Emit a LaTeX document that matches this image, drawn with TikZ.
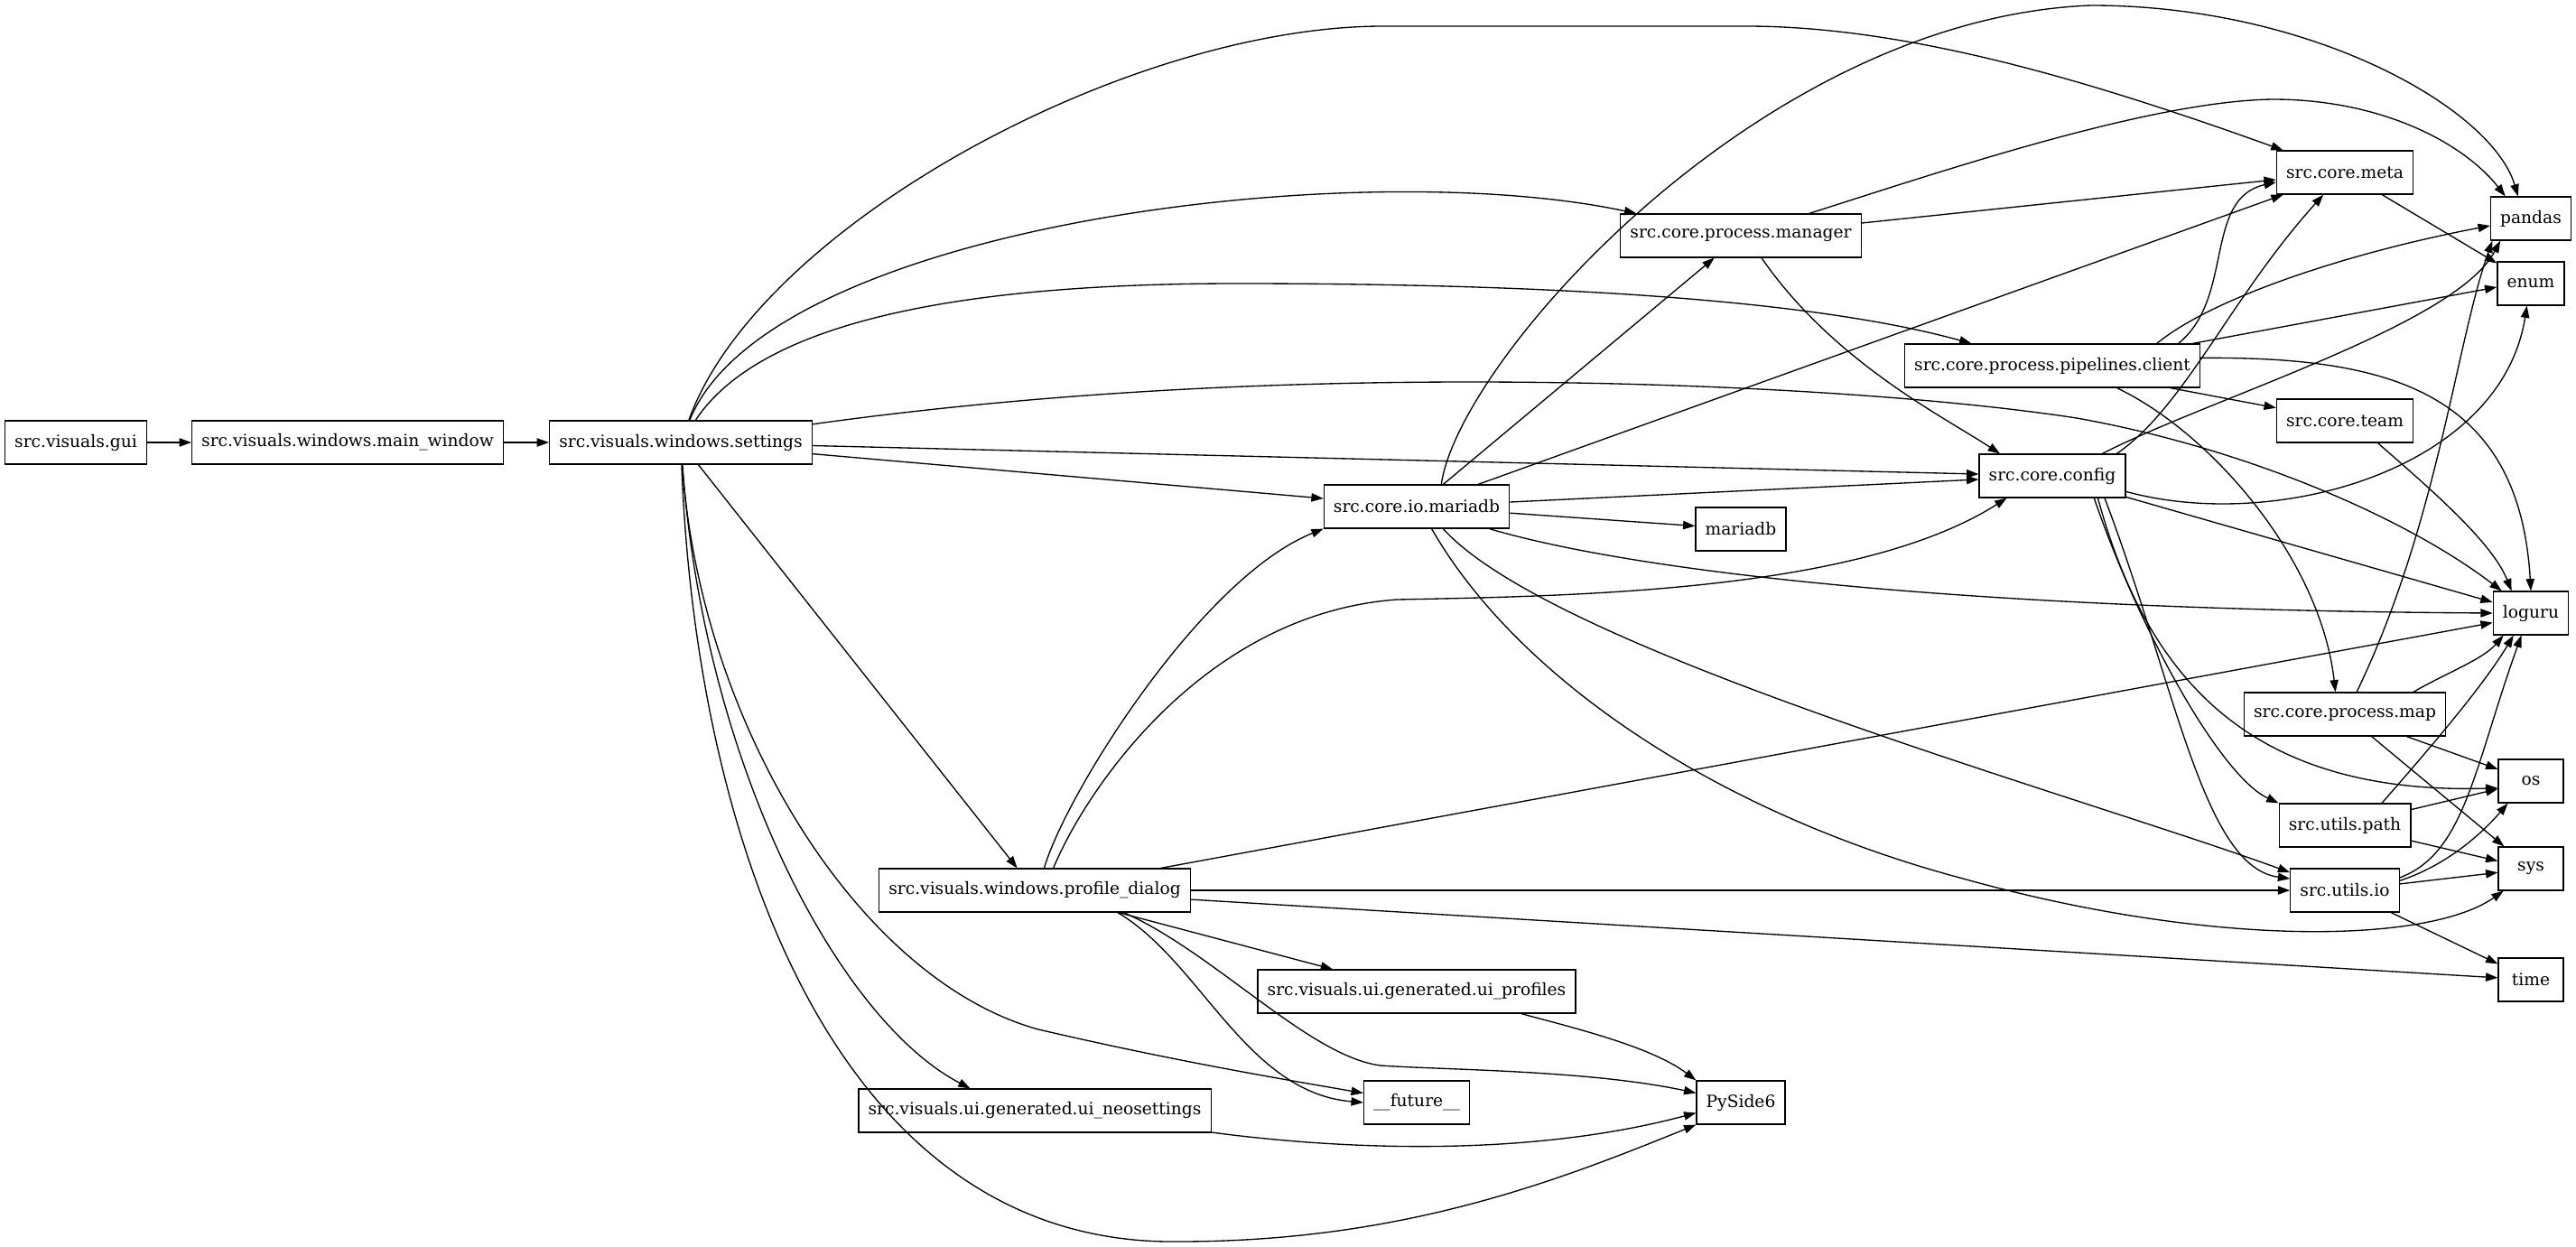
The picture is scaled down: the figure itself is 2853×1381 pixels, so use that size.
\documentclass[tikz,border=0pt]{standalone}
\usepackage{fontspec}
\setmainfont{DejaVu Serif}
\usetikzlibrary{arrows.meta}
\tikzset{
mod/.style={draw,line width=0.9pt,rectangle,minimum width=54pt,minimum height=36pt,inner xsep=8pt,inner ysep=0pt,font=\fontsize{14}{16}\selectfont},
dep/.style={line width=1pt,-{Triangle[length=10pt,width=7pt]}}
}
\begin{document}
\begin{tikzpicture}[x=0.75pt,y=-0.75pt]
\useasboundingbox (0,0) rectangle (2853,1381);
\node[mod] (gui) at (84,490) {src.visuals.gui};
\node[mod] (mainwin) at (385,490) {src.visuals.windows.main\_window};
\node[mod] (settings) at (754,490) {src.visuals.windows.settings};
\node[mod] (profile) at (1146,986) {src.visuals.windows.profile\_dialog};
\node[mod] (uineo) at (1146,1230) {src.visuals.ui.generated.ui\_neosettings};
\node[mod] (mariadbio) at (1569,561) {src.core.io.mariadb};
\node[mod] (uiprof) at (1569,1098) {src.visuals.ui.generated.ui\_profiles};
\node[mod] (future) at (1569,1221) {\_\_future\_\_};
\node[mod] (manager) at (1928,261) {src.core.process.manager};
\node[mod] (mariadb) at (1928,586) {mariadb};
\node[mod] (pyside) at (1928,1221) {PySide6};
\node[mod] (pipelines) at (2273,405) {src.core.process.pipelines.client};
\node[mod] (config) at (2273,527) {src.core.config};
\node[mod] (meta) at (2597,191) {src.core.meta};
\node[mod] (team) at (2597,466) {src.core.team};
\node[mod] (pmap) at (2597,791) {src.core.process.map};
\node[mod] (upath) at (2597,914) {src.utils.path};
\node[mod] (uio) at (2597,986) {src.utils.io};
\node[mod] (pandas) at (2803,242) {pandas};
\node[mod] (enum) at (2803,314) {enum};
\node[mod] (loguru) at (2803,679) {loguru};
\node[mod] (os) at (2803,865) {os};
\node[mod] (sys) at (2803,962) {sys};
\node[mod] (time) at (2803,1085) {time};

\draw[dep] (gui) -- (mainwin);
\draw[dep] (mainwin) -- (settings);
\draw[dep] (settings) ..controls (840,250) and (1250,29).. (1532,29) -- (1934,29) ..controls (2120,29) and (2330,95).. (meta);
\draw[dep] (settings) ..controls (850,250) and (1500,170).. (manager);
\draw[dep] (settings) ..controls (840,360) and (1050,314).. (1370,314) ..controls (1700,314) and (2000,330).. (pipelines);
\draw[dep] (settings) ..controls (1150,435) and (1400,423).. (1628,423) ..controls (1900,423) and (2150,440).. (2300,463) ..controls (2480,495) and (2660,570).. (loguru);
\draw[dep] (settings) -- (config);
\draw[dep] (settings) -- (mariadbio);
\draw[dep] (settings) -- (profile);
\draw[dep] (settings) ..controls (780,850) and (930,1130).. (uineo.161);
\draw[dep] (settings) ..controls (775,800) and (950,1085).. (1150,1140) ..controls (1300,1175) and (1420,1195).. (future.170);
\draw[dep] (settings) ..controls (770,920) and (920,1380).. (1305,1375) ..controls (1550,1375) and (1720,1310).. (pyside.south west);

\draw[dep] (profile.67) ..controls (1180,880) and (1330,640).. (mariadbio.south west);
\draw[dep] (profile.50) ..controls (1200,880) and (1330,680).. (1547,664) ..controls (1750,660) and (2060,655).. (config.206);
\draw[dep] (profile.10) -- (loguru.194);
\draw[dep] (profile) -- (uio);
\draw[dep] (profile) -- (time);
\draw[dep] (profile) -- (uiprof);
\draw[dep] (profile.-15) ..controls (1330,1065) and (1380,1210).. (future.west);
\draw[dep] (profile.-14) ..controls (1345,1055) and (1450,1170).. (1529,1180) ..controls (1600,1185) and (1760,1185).. (pyside.168);
\draw[dep] (uiprof.-12) ..controls (1750,1140) and (1830,1160).. (pyside.north west);
\draw[dep] (uineo.-7) ..controls (1500,1275) and (1700,1280).. (pyside.193);

\draw[dep] (mariadbio) -- (manager);
\draw[dep] (mariadbio) -- (meta);
\draw[dep] (mariadbio.42) ..controls (1615,400) and (1950,20).. (2316,6) ..controls (2560,6) and (2760,120).. (pandas.120);
\draw[dep] (mariadbio) -- (config);
\draw[dep] (mariadbio) -- (mariadb);
\draw[dep] (mariadbio.-17) ..controls (1800,630) and (2150,675).. (loguru.west);
\draw[dep] (mariadbio.-40) ..controls (1720,720) and (2300,880).. (uio.162);
\draw[dep] (mariadbio.-56) ..controls (1680,750) and (1900,900).. (2174,973) ..controls (2450,1050) and (2690,1045).. (sys.219);

\draw[dep] (manager) -- (meta);
\draw[dep] (manager.18) ..controls (2150,190) and (2380,112).. (2517,110) ..controls (2640,110) and (2730,160).. (pandas.139);
\draw[dep] (manager.-47) ..controls (2030,400) and (2150,460).. (config.157);

\draw[dep] (pipelines.10) ..controls (2475,330) and (2440,220).. (meta.188);
\draw[dep] (pipelines.12) ..controls (2450,330) and (2600,280).. (pandas.190);
\draw[dep] (pipelines.9) -- (enum.186);
\draw[dep] (pipelines.3) ..controls (2640,395) and (2790,430).. (loguru.north);
\draw[dep] (pipelines) -- (team);
\draw[dep] (pipelines.-19) ..controls (2450,480) and (2570,620).. (pmap.113);

\draw[dep] (config.19) ..controls (2420,450) and (2470,330).. (meta.226);
\draw[dep] (config.24) ..controls (2450,440) and (2720,360).. (pandas.216);
\draw[dep] (config.-12) ..controls (2520,590) and (2770,520).. (enum.260);
\draw[dep] (config) -- (loguru);
\draw[dep] (config.-26) ..controls (2380,760) and (2500,880).. (os.192);
\draw[dep] (config.-28) ..controls (2370,700) and (2460,860).. (upath.north west);
\draw[dep] (config.-23) ..controls (2410,760) and (2440,960).. (uio.168);

\draw[dep] (meta) -- (enum);
\draw[dep] (team.-34) ..controls (2690,540) and (2760,600).. (loguru.131);
\draw[dep] (pmap.62) ..controls (2700,580) and (2720,380).. (pandas.210);
\draw[dep] (pmap.18) ..controls (2710,745) and (2750,730).. (loguru.219);
\draw[dep] (pmap) -- (os);
\draw[dep] (pmap) -- (sys);
\draw[dep] (upath.31) ..controls (2690,830) and (2750,760).. (loguru.232);
\draw[dep] (upath) -- (os);
\draw[dep] (upath) -- (sys);
\draw[dep] (uio.13) ..controls (2730,945) and (2740,850).. (loguru.247);
\draw[dep] (uio.10) ..controls (2720,955) and (2760,910).. (os.224);
\draw[dep] (uio) -- (sys);
\draw[dep] (uio) -- (time);
\end{tikzpicture}
\end{document}
